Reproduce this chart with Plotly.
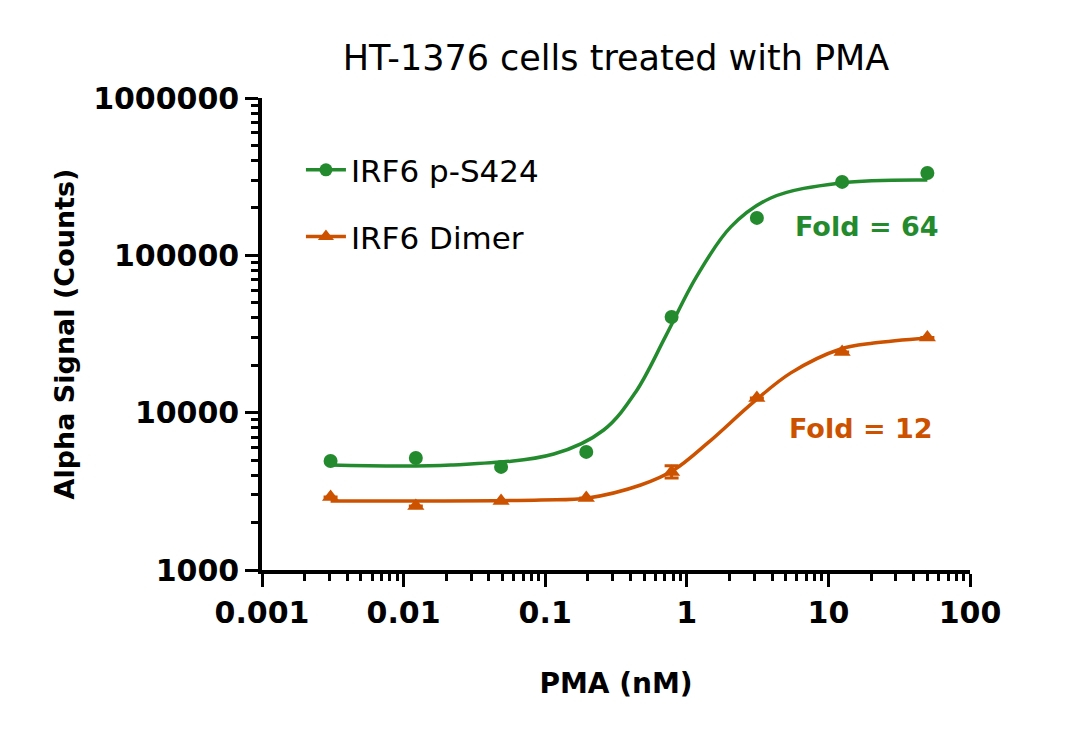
"""
HT-1376 cells treated with PMA - IRF6 AlphaLISA dose response (log-log).
"""

import plotly.graph_objects as go

GREEN = "#238B2E"
ORANGE = "#CC5200"
FONT = "DejaVu Sans"

# measured points (4-fold dilution series)
pma_nM = [0.00305, 0.0122, 0.0488, 0.195, 0.781, 3.125, 12.5, 50]
ps424_counts = [4930, 5150, 4520, 5630, 40600, 173000, 293000, 334000]
dimer_counts = [2910, 2550, 2745, 2870, 4200, 12400, 24300, 30000]
dimer_err_plus = [0, 0, 0, 0, 390, 0, 0, 0]
dimer_err_minus = [0, 0, 0, 0, 360, 0, 0, 0]

# fitted curves
ps424_fit_x = [0.00305, 0.0216, 0.115, 0.259, 0.436, 0.711, 1.158, 2.046,
               3.92, 12.2, 50]
ps424_fit_y = [4650, 4650, 5460, 7760, 13540, 30740, 71800, 151600,
               231500, 288500, 301500]
dimer_fit_x = [0.00305, 0.0934, 0.2, 0.473, 0.81, 1.407, 2.97, 5.43, 12.2,
               20.9, 50]
dimer_fit_y = [2745, 2786, 2870, 3470, 4320, 6420, 11700, 17900, 25400,
               27700, 29850]

x_ticks = [0.001, 0.01, 0.1, 1, 10, 100]
x_ticktext = ["0.001", "0.01", "0.1", "1", "10", "100"]
y_ticks = [1000, 10000, 100000, 1000000]
y_ticktext = ["1000", "10000", "100000", "1000000"]

series = ["IRF6 p-S424", "IRF6 Dimer"]
fold_labels = ["Fold = 64", "Fold = 12"]

fig = go.Figure()

fig.add_trace(go.Scatter(x=ps424_fit_x, y=ps424_fit_y, mode="lines",
                         line=dict(color=GREEN, width=3.5, shape="spline"),
                         showlegend=False))
fig.add_trace(go.Scatter(x=dimer_fit_x, y=dimer_fit_y, mode="lines",
                         line=dict(color=ORANGE, width=3.5, shape="spline"),
                         showlegend=False))
fig.add_trace(go.Scatter(x=pma_nM, y=ps424_counts, mode="markers",
                         marker=dict(color=GREEN, size=14, symbol="circle"),
                         showlegend=False))
fig.add_trace(go.Scatter(x=pma_nM, y=dimer_counts, mode="markers",
                         marker=dict(color=ORANGE, size=15, symbol="triangle-up"),
                         error_y=dict(type="data", array=dimer_err_plus,
                                      arrayminus=dimer_err_minus, color=ORANGE,
                                      thickness=3, width=7),
                         showlegend=False))

# legend entries (line + marker), one legend each so the spacing can match
fig.add_trace(go.Scatter(x=[None], y=[None], mode="lines+markers", name=series[0],
                         line=dict(color=GREEN, width=3.5),
                         marker=dict(color=GREEN, size=13, symbol="circle"),
                         legend="legend"))
fig.add_trace(go.Scatter(x=[None], y=[None], mode="lines+markers", name=series[1],
                         line=dict(color=ORANGE, width=3.5),
                         marker=dict(color=ORANGE, size=14, symbol="triangle-up"),
                         legend="legend2"))

axis_common = dict(
    type="log", showline=True, linewidth=3.5, linecolor="black",
    ticks="outside", ticklen=13, tickwidth=3, tickcolor="black",
    showgrid=False, zeroline=False, mirror=False,
    tickfont=dict(family=FONT, size=30, color="black", weight="bold"),
    minor=dict(ticks="outside", ticklen=7, tickwidth=3, tickcolor="black",
               dtick="D1", showgrid=False),
)

fig.update_xaxes(**axis_common, range=[-3, 2], tickvals=x_ticks,
                 ticktext=x_ticktext,
                 title=dict(text="PMA (nM)", standoff=46,
                            font=dict(family=FONT, size=28,
                                      color="black", weight="bold")))
fig.update_yaxes(**axis_common, range=[3, 6], tickvals=y_ticks,
                 ticktext=y_ticktext,
                 title=dict(text="Alpha Signal (Counts)", standoff=12,
                            font=dict(family=FONT, size=27,
                                      color="black", weight="bold")))

legend_style = dict(font=dict(family=FONT, size=31, color="black"),
                    bgcolor="rgba(0,0,0,0)", xanchor="left", yanchor="middle",
                    itemwidth=40)

fig.update_layout(
    width=1080, height=738,
    margin=dict(l=254, r=118, t=90, b=176),
    paper_bgcolor="white", plot_bgcolor="white",
    title=dict(text="HT-1376 cells treated with PMA", x=0.5, xref="paper",
               y=0.932, yanchor="middle",
               font=dict(family=FONT, size=35, color="black")),
    legend=dict(**legend_style, x=0.055, y=0.847),
    legend2=dict(**legend_style, x=0.055, y=0.706),
    annotations=[
        dict(text=fold_labels[0], x=0.854, y=0.727, xref="paper", yref="paper",
             xanchor="center", yanchor="middle", showarrow=False,
             font=dict(family=FONT, size=27, color=GREEN, weight="bold")),
        dict(text=fold_labels[1], x=0.845, y=0.299, xref="paper", yref="paper",
             xanchor="center", yanchor="middle", showarrow=False,
             font=dict(family=FONT, size=27, color=ORANGE, weight="bold")),
    ],
)

fig.write_html("out.html")
